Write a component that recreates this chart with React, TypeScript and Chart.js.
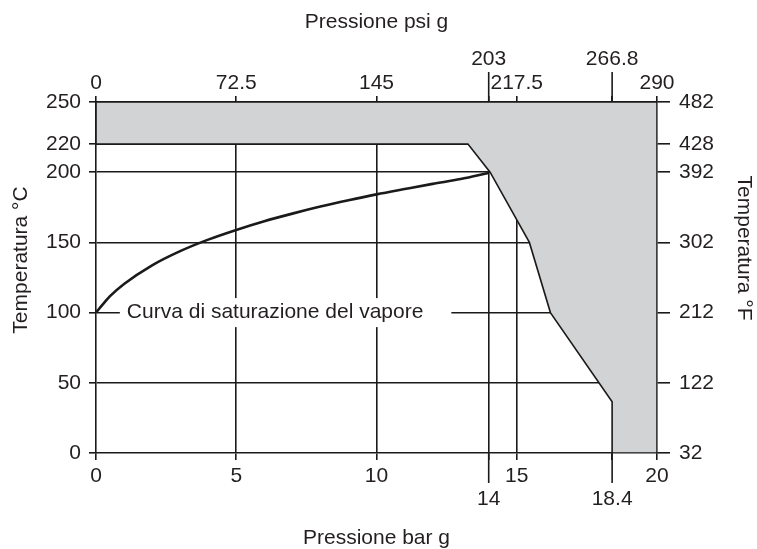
import React, { useEffect, useRef } from 'react';
import { Chart, registerables } from 'chart.js';

Chart.register(...registerables);

// ---- data ----
const barTicks = [0, 5, 10, 14, 15, 18.4, 20];
const barLowTicks = [14, 18.4];
const barGrid = [5, 10, 14, 15];
const psiTicks = [0, 72.5, 145, 203, 217.5, 266.8, 290];
const psiHighTicks = [203, 266.8];
const celsiusTicks = [0, 50, 100, 150, 200, 220, 250];
const celsiusGrid = [50, 100, 150, 200];
const fahrenheitLabels = ['32', '122', '212', '302', '392', '428', '482'];

// saturated steam curve (bar g, °C)
const satPressure = [0, 0.25, 0.5, 1, 2, 3, 4, 5, 6, 7, 8, 9, 10, 11, 12, 13, 14];
const satTemp = [100, 106, 111.7, 120.4, 133.7, 143.8, 152, 158.9, 165.1, 170.5, 175.5, 180, 184.2, 188, 191.7, 195.1, 199.5];

// operating limit (shaded = not allowed)
const limitPressure = [0, 20, 20, 18.4, 18.4, 16.2, 15.45, 14.05, 13.26, 0, 0];
const limitTemp = [250, 250, 0, 0, 36.5, 100, 150, 200, 220, 220, 250];

const curveLabel = 'Curva di saturazione del vapore';
const curveLabelAt = [1.1, 100];
const titleTop = 'Pressione psi g';
const titleBottom = 'Pressione bar g';
const titleLeft = 'Temperatura °C';
const titleRight = 'Temperatura °F';

// ---- style ----
const FONT = '"Liberation Sans", Arial, Helvetica, sans-serif';
const INK = '#231f20';
const LINE = '#1a1a1a';
const SHADE = '#d1d3d4';
const LW = 1.6;
const CLEAR = 'rgba(0,0,0,0)';

export default function App() {
  const ref = useRef<HTMLCanvasElement>(null);

  useEffect(() => {
    const canvas = ref.current;
    if (!canvas) return;

    const decor = {
      id: 'decor',
      afterDraw(chart: any) {
        const { ctx, chartArea: a, scales } = chart;
        const sx = scales.x;
        const sx2 = scales.x2;
        const sy = scales.y;
        ctx.save();
        ctx.strokeStyle = LINE;
        ctx.lineWidth = LW;
        barLowTicks.forEach((v) => {
          const px = sx.getPixelForValue(v);
          ctx.beginPath();
          ctx.moveTo(px, a.bottom);
          ctx.lineTo(px, a.bottom + 30);
          ctx.stroke();
        });
        psiHighTicks.forEach((v) => {
          const px = sx2.getPixelForValue(v);
          ctx.beginPath();
          ctx.moveTo(px, a.top);
          ctx.lineTo(px, a.top - 30);
          ctx.stroke();
        });

        // curve label with white knock-out box
        ctx.font = `21px ${FONT}`;
        const lx = sx.getPixelForValue(curveLabelAt[0]);
        const ly = sy.getPixelForValue(curveLabelAt[1]);
        const w = ctx.measureText(curveLabel).width;
        ctx.fillStyle = '#ffffff';
        ctx.fillRect(lx - 7, ly - 14.5, w + 35, 29);
        ctx.fillStyle = INK;
        ctx.textAlign = 'left';
        ctx.textBaseline = 'middle';
        ctx.fillText(curveLabel, lx, ly);

        // axis titles
        const cx = (a.left + a.right) / 2;
        ctx.textAlign = 'center';
        ctx.fillText(titleTop, cx, 22);
        ctx.fillText(titleBottom, cx, 538);
        ctx.save();
        ctx.translate(21, 260);
        ctx.rotate(-Math.PI / 2);
        ctx.fillText(titleLeft, 0, 0);
        ctx.restore();
        ctx.save();
        ctx.translate(744, 248);
        ctx.rotate(Math.PI / 2);
        ctx.fillText(titleRight, 0, 0);
        ctx.restore();
        ctx.restore();
      },
    };

    const tickFont = (lh: number) => ({ family: FONT, size: 21, lineHeight: lh });

    const chart = new Chart(canvas, {
      type: 'scatter',
      data: {
        datasets: [
          {
            label: 'saturazione',
            data: satPressure.map((p, i) => ({ x: p, y: satTemp[i] })),
            showLine: true,
            borderColor: LINE,
            borderWidth: 2.6,
            pointRadius: 0,
            fill: false,
            cubicInterpolationMode: 'monotone',
            order: 0,
          },
          {
            label: 'limite',
            data: limitPressure.map((p, i) => ({ x: p, y: limitTemp[i] })),
            showLine: true,
            fill: 'shape',
            backgroundColor: SHADE,
            borderColor: LINE,
            borderWidth: LW,
            pointRadius: 0,
            tension: 0,
            order: 1,
          },
        ],
      },
      options: {
        animation: false,
        responsive: false,
        events: [],
        layout: { padding: 0, autoPadding: false },
        plugins: {
          legend: { display: false },
          tooltip: { enabled: false },
          title: { display: false },
        },
        scales: {
          x: {
            type: 'linear',
            position: 'bottom',
            min: 0,
            max: 20,
            afterBuildTicks: (s: any) => {
              s.ticks = barTicks.map((v) => ({ value: v }));
            },
            afterFit: (s: any) => {
              s.height = 96;
            },
            grid: {
              color: (c: any) => (c.tick && barGrid.includes(c.tick.value) ? LINE : CLEAR),
              lineWidth: LW,
              tickColor: LINE,
              tickWidth: LW,
              tickLength: 7,
            },
            border: { display: true, color: LINE, width: LW },
            ticks: {
              autoSkip: false,
              maxRotation: 0,
              minRotation: 0,
              padding: 4.5,
              color: INK,
              font: tickFont(1.1),
              callback: (v: any) => (barLowTicks.includes(v) ? ['', String(v)] : String(v)),
            },
          },
          x2: {
            type: 'linear',
            position: 'top',
            min: 0,
            max: 290,
            afterBuildTicks: (s: any) => {
              s.ticks = psiTicks.map((v) => ({ value: v }));
            },
            afterFit: (s: any) => {
              s.height = 102;
            },
            grid: {
              drawOnChartArea: false,
              color: LINE,
              lineWidth: LW,
              tickColor: LINE,
              tickWidth: LW,
              tickLength: 6,
            },
            border: { display: true, color: LINE, width: LW },
            ticks: {
              autoSkip: false,
              maxRotation: 0,
              minRotation: 0,
              padding: 1,
              color: INK,
              font: tickFont(24 / 21),
              callback: (v: any) => (psiHighTicks.includes(v) ? [String(v), ''] : String(v)),
            },
          },
          y: {
            type: 'linear',
            position: 'left',
            min: 0,
            max: 250,
            afterBuildTicks: (s: any) => {
              s.ticks = celsiusTicks.map((v) => ({ value: v }));
            },
            afterFit: (s: any) => {
              s.width = 96;
            },
            grid: {
              color: (c: any) => (c.tick && celsiusGrid.includes(c.tick.value) ? LINE : CLEAR),
              lineWidth: LW,
              tickColor: LINE,
              tickWidth: LW,
              tickLength: 7,
            },
            border: { display: true, color: LINE, width: LW },
            ticks: {
              autoSkip: false,
              padding: 8,
              color: INK,
              font: tickFont(1.2),
              callback: (v: any) => String(v),
            },
          },
          y2: {
            type: 'linear',
            position: 'right',
            min: 0,
            max: 250,
            afterBuildTicks: (s: any) => {
              s.ticks = celsiusTicks.map((v) => ({ value: v }));
            },
            afterFit: (s: any) => {
              s.width = 100;
            },
            grid: {
              drawOnChartArea: false,
              color: LINE,
              lineWidth: LW,
              tickColor: LINE,
              tickWidth: LW,
              tickLength: 13,
            },
            border: { display: true, color: LINE, width: LW },
            ticks: {
              autoSkip: false,
              padding: 9,
              color: INK,
              font: tickFont(1.2),
              callback: (v: any) => {
                const i = celsiusTicks.indexOf(v);
                return i >= 0 ? fahrenheitLabels[i] : '';
              },
            },
          },
        },
      },
      plugins: [decor],
    } as any);

    return () => {
      chart.destroy();
    };
  }, []);

  return (
    <div style={{ position: 'absolute', left: 0, top: 0, width: 757, height: 549, background: '#fff' }}>
      <canvas ref={ref} width={757} height={549} style={{ display: 'block' }} />
    </div>
  );
}
